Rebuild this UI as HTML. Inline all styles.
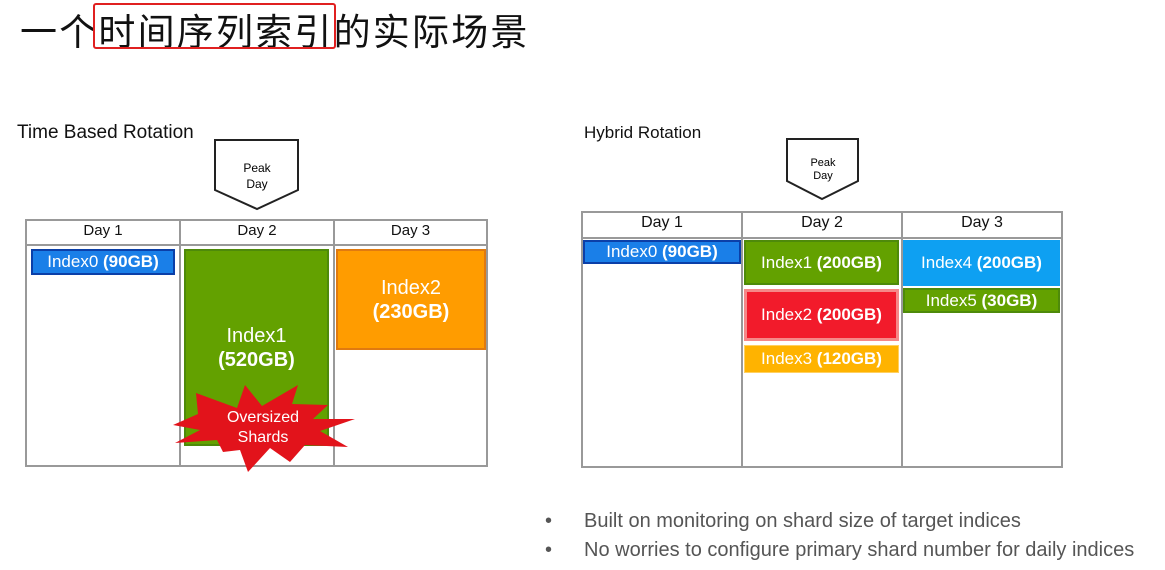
<!DOCTYPE html>
<html><head><meta charset="utf-8"><style>
body{margin:0;width:1165px;height:570px;background:#fff;position:relative;overflow:hidden;font-family:"Liberation Sans",Arial,sans-serif}
.a{position:absolute}
.t{font-family:"Liberation Sans","Noto Sans CJK SC",sans-serif;font-size:37px;left:20px;top:2px;color:#111;white-space:nowrap;letter-spacing:2.2px}
.box{position:absolute;color:#fff;display:flex;align-items:center;justify-content:center;text-align:center;box-sizing:border-box;white-space:nowrap}
.hd{position:absolute;font-size:15px;color:#111;text-align:center}
</style></head><body>
<div class="a t">一个时间序列索引的实际场景</div>
<div class="a" style="left:93px;top:3px;width:239px;height:42px;border:2px solid #e02020;border-radius:3px"></div>
<div class="a" style="left:17px;top:122px;font-size:19px;color:#111">Time Based Rotation</div>
<div class="a" style="left:584px;top:123px;font-size:17px;color:#111">Hybrid Rotation</div>
<svg class="a" style="left:0;top:0" width="1165" height="570">
<polygon points="215,140 298,140 298,190 257,209 215,190" fill="#fff" stroke="#222" stroke-width="2"/>
<text x="257" y="172" font-size="12" text-anchor="middle" font-family="Liberation Sans">Peak</text>
<text x="257" y="188" font-size="12" text-anchor="middle" font-family="Liberation Sans">Day</text>
<polygon points="787,139 858,139 858,181 822,199 787,181" fill="#fff" stroke="#222" stroke-width="2"/>
<text x="823" y="166" font-size="11" text-anchor="middle" font-family="Liberation Sans">Peak</text>
<text x="823" y="179" font-size="11" text-anchor="middle" font-family="Liberation Sans">Day</text>
<g fill="none" stroke="#999" stroke-width="2">
<rect x="26" y="220" width="461" height="246"/>
<line x1="26" y1="245" x2="487" y2="245"/><line x1="180" y1="220" x2="180" y2="466"/><line x1="334" y1="220" x2="334" y2="466"/>
<rect x="582" y="212" width="480" height="255"/>
<line x1="582" y1="238" x2="1062" y2="238"/><line x1="742" y1="212" x2="742" y2="467"/><line x1="902" y1="212" x2="902" y2="467"/>
</g>
</svg>
<div class="hd" style="left:26px;top:222px;width:154px">Day 1</div>
<div class="hd" style="left:180px;top:222px;width:154px">Day 2</div>
<div class="hd" style="left:334px;top:222px;width:153px">Day 3</div>
<div class="hd" style="left:582px;top:214px;width:160px;font-size:16px">Day 1</div>
<div class="hd" style="left:742px;top:214px;width:160px;font-size:16px">Day 2</div>
<div class="hd" style="left:902px;top:214px;width:160px;font-size:16px">Day 3</div>
<div class="box" style="left:31px;top:249px;width:144px;height:26px;background:#1a7fe8;border:2px solid #0b3fa8;font-size:17px"><span>Index0 <b>(90GB)</b></span></div>
<div class="box" style="left:184px;top:249px;width:145px;height:197px;background:#63a100;border:2px solid #4e8a0a;font-size:20px;line-height:24px"><span>Index1<br><b>(520GB)</b></span></div>
<div class="box" style="left:336px;top:249px;width:150px;height:101px;background:#ff9c00;border:2px solid #e07a10;font-size:20px;line-height:24px"><span>Index2<br><b>(230GB)</b></span></div>
<svg class="a" style="left:0;top:0" width="1165" height="570">
<polygon fill="#e2131b" points="196,393 237,408 245,385 262,406 298,385 292,404 328,405 313,419 355,419 320,431 348,447 305,445 290,462 270,448 248,472 240,450 223,452 217,440 175,443 200,430 173,425 198,414" />
<text x="263" y="422" fill="#fff" font-size="16" text-anchor="middle" font-family="Liberation Sans">Oversized</text>
<text x="263" y="442" fill="#fff" font-size="16" text-anchor="middle" font-family="Liberation Sans">Shards</text>
</svg>
<div class="box" style="left:583px;top:240px;width:158px;height:24px;background:#1a7fe8;border:2px solid #0b3fa8;font-size:17px"><span>Index0 <b>(90GB)</b></span></div>
<div class="box" style="left:744px;top:240px;width:155px;height:45px;background:#63a100;border:2px solid #4e8a0a;font-size:17px"><span>Index1 <b>(200GB)</b></span></div>
<div class="box" style="left:744px;top:289px;width:155px;height:52px;background:#f21b2b;border:3px solid #f58888;font-size:17px"><span>Index2 <b>(200GB)</b></span></div>
<div class="box" style="left:744px;top:345px;width:155px;height:28px;background:#ffb300;border:1px solid #ffd060;font-size:17px"><span>Index3 <b>(120GB)</b></span></div>
<div class="box" style="left:903px;top:240px;width:157px;height:46px;background:#0ea0f2;font-size:17px"><span>Index4 <b>(200GB)</b></span></div>
<div class="box" style="left:903px;top:288px;width:157px;height:25px;background:#63a100;border:2px solid #4e8a0a;font-size:17px"><span>Index5 <b>(30GB)</b></span></div>
<div class="a" style="left:545px;top:507px;font-size:20px;color:#555;line-height:29px;white-space:nowrap">•<span style="position:absolute;left:39px">Built on monitoring on shard size of target indices</span><br>•<span style="position:absolute;left:39px">No worries to configure primary shard number for daily indices</span></div>
</body></html>
